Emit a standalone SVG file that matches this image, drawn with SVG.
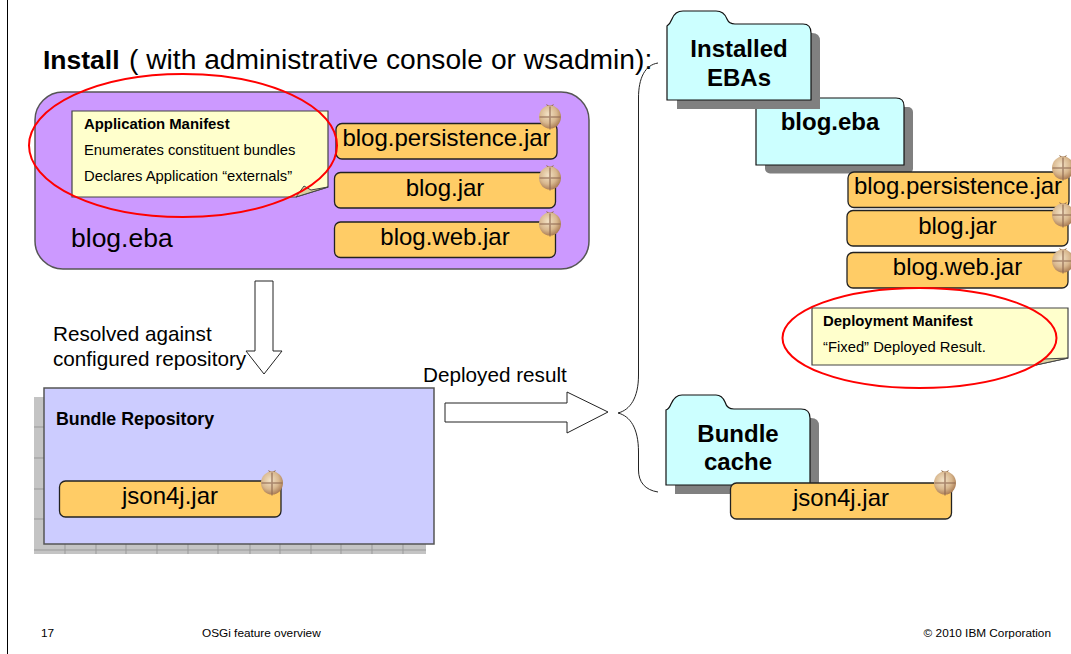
<svg xmlns="http://www.w3.org/2000/svg" width="1071" height="654" viewBox="0 0 1071 654">
<style>
text{font-family:"Liberation Sans",Arial,sans-serif;fill:#000}
.jar{fill:#ffcc66;stroke:#222;stroke-width:1.3}
.jt{font-size:24px;text-anchor:middle}
.note{fill:#ffffcc;stroke:#444;stroke-width:1.2}
.fold{fill:#d8d0a0;stroke:#444;stroke-width:1}
.b14{font-size:14.9px;font-weight:bold}
.n13{font-size:14.8px}
.folder{fill:#ccffff;stroke:#111;stroke-width:1.2}
.shadow{fill:#808080}
.ft{font-size:24px;font-weight:bold;text-anchor:middle}
.red{fill:none;stroke:#f00;stroke-width:2}
.arrow{fill:#fff;stroke:#222;stroke-width:1}
.lbl{font-size:20.7px}
.foot{font-size:11.8px}
.grid{stroke:#999;stroke-width:1;fill:none}
</style>
<defs>
<radialGradient id="pom" cx="0.42" cy="0.38" r="0.65">
<stop offset="0" stop-color="#f3e2c6"/>
<stop offset="0.6" stop-color="#d8b78e"/>
<stop offset="1" stop-color="#a97a52"/>
</radialGradient>
<g id="bulb">
<path d="M-4,-13 L-2,-9.500 H2 L4,-13 L1,-11.500 H-1 Z" fill="#96704e"/>
<ellipse cx="0" cy="0" rx="11" ry="11.500" fill="url(#pom)"/>
<path d="M-10.500,0 H10.500 M0,-10.500 V12.500" stroke="#8f6a52" stroke-width="1.600" stroke-opacity="0.7" fill="none"/>
</g>
</defs>
<path d="M7.500,0 V654" stroke="#000" stroke-width="1" fill="none"/>
<text x="43" y="69" style="font-size:26.5px;font-weight:bold">Install</text>
<text x="129" y="69" style="font-size:28.2px">( with administrative console or wsadmin):</text>

<g id="connectors">
<path class="arrow" d="M255,281 H273 V351 H282 L264,374 L246,351 H255 Z"/>
<path class="arrow" d="M445,403 H567 V392 L608,412 L567,433 V422 H445 Z"/>
<path d="M658,63 C645,65 638.500,78 638.500,98 V375 C638.500,398 630,410 618,413 C630,416 638.500,428 638.500,452 V470 C638.500,482 645,490 658,492" fill="none" stroke="#222" stroke-width="1"/>
</g>

<g id="blog-eba-archive">
<rect x="35" y="92" width="554" height="177" rx="28" ry="28" fill="#cc99ff" stroke="#555" stroke-width="1.500"/>
<text x="71" y="247" style="font-size:26.500px">blog.eba</text>
</g>
<g id="app-manifest">
<path class="note" d="M72,111 H328 V187 L296,197 H72 Z"/>
<path class="fold" d="M296,197 L304,186 L311,190 L328,187 Z"/>
<text class="b14" x="84" y="129">Application Manifest</text>
<text class="n13" x="84" y="155">Enumerates constituent bundles</text>
<text class="n13" x="84" y="181">Declares Application “externals”</text>
</g>
<g id="jar-persistence-1">
<rect class="jar" x="336" y="123.500" width="221" height="35.500" rx="6"/>
<text class="jt" x="446.500" y="146">blog.persistence.jar</text>
<use href="#bulb" x="550" y="117"/>
</g>
<g id="jar-blog-1">
<rect class="jar" x="334.500" y="172.500" width="221" height="35.500" rx="6"/>
<text class="jt" x="445" y="196">blog.jar</text>
<use href="#bulb" x="550" y="178"/>
</g>
<g id="jar-web-1">
<rect class="jar" x="334.500" y="222" width="221" height="35.500" rx="6"/>
<text class="jt" x="445" y="245">blog.web.jar</text>
<use href="#bulb" x="550" y="224"/>
</g>
<ellipse id="ring-app" class="red" cx="183" cy="145.500" rx="154" ry="71.500"/>

<text class="lbl" x="53" y="341">Resolved against</text>
<text class="lbl" x="53" y="366">configured repository</text>
<text class="lbl" x="423" y="382">Deployed result</text>

<g id="bundle-repository">
<rect x="34" y="397" width="392" height="157" fill="#c4c4c4"/>
<path class="grid" d="M34,427H44M34,458H44M34,489H44M34,519H44M34,550H426M65,544V554M96,544V554M126,544V554M157,544V554M188,544V554M218,544V554M250,544V554M280,544V554M311,544V554M341,544V554M372,544V554M403,544V554"/>
<rect x="44" y="388" width="390" height="156" fill="#ccccff" stroke="#555" stroke-width="1.500"/>
<text x="56" y="425" style="font-size:17.800px;font-weight:bold">Bundle Repository</text>
</g>
<g id="jar-json-1">
<rect class="jar" x="59.500" y="481" width="221.500" height="36" rx="6"/>
<text class="jt" x="170" y="504">json4j.jar</text>
<use href="#bulb" x="272" y="483"/>
</g>

<g id="folder-blog-eba">
<rect class="shadow" x="765" y="107" width="148" height="66.500" rx="5"/>
<path class="folder" d="M756,165 V98 H896 Q904,98 904,106 V165 Z"/>
<text class="ft" x="830" y="130">blog.eba</text>
</g>
<g id="folder-installed">
<path class="shadow" d="M677,109 V33 H812 Q820,33 820,41 V109 Z"/>
<path class="folder" d="M667,100 V26 Q670,24 672,19 Q675,11 683,11 H716 Q724,11 727,19 Q729,24 735,24 H803 Q811,24 811,33 V100 Z"/>
<text class="ft" x="739" y="57">Installed</text>
<text class="ft" x="739" y="86">EBAs</text>
</g>
<g id="jar-persistence-2">
<rect class="jar" x="848" y="172" width="221" height="35.500" rx="6"/>
<text class="jt" x="958" y="194">blog.persistence.jar</text>
<use href="#bulb" x="1063" y="168"/>
</g>
<g id="jar-blog-2">
<rect class="jar" x="847" y="210.500" width="221" height="35.500" rx="6"/>
<text class="jt" x="957.500" y="234">blog.jar</text>
<use href="#bulb" x="1063" y="215"/>
</g>
<g id="jar-web-2">
<rect class="jar" x="847" y="252.500" width="221" height="35.500" rx="6"/>
<text class="jt" x="957.500" y="275">blog.web.jar</text>
<use href="#bulb" x="1063" y="261"/>
</g>
<g id="deploy-manifest">
<path class="note" d="M812,308 H1068 V358 L1036,365 H812 Z"/>
<path class="fold" d="M1036,365 L1044,359 L1068,358 Z"/>
<text class="b14" x="823" y="326">Deployment Manifest</text>
<text class="n13" x="823" y="352">“Fixed” Deployed Result.</text>
</g>
<ellipse id="ring-deploy" class="red" cx="919.500" cy="338" rx="137" ry="50"/>

<g id="folder-bundle-cache">
<path class="shadow" d="M675,494 V418 H811 Q819,418 819,426 V494 Z"/>
<path class="folder" d="M666,485 V410 Q669,409 671,404 Q675,395 682,395 H716 Q722,395 725,402 Q727,409 734,409 H801 Q810,409 810,418 V485 Z"/>
<text class="ft" x="738" y="442">Bundle</text>
<text class="ft" x="738" y="470">cache</text>
</g>
<g id="jar-json-2">
<rect class="jar" x="730.500" y="483" width="221" height="36" rx="6"/>
<text class="jt" x="841" y="506">json4j.jar</text>
<use href="#bulb" x="945" y="483"/>
</g>

<g id="footer">
<text class="foot" x="41" y="637">17</text>
<text class="foot" x="202" y="637">OSGi feature overview</text>
<text class="foot" x="1051" y="637" text-anchor="end">© 2010 IBM Corporation</text>
</g>
</svg>
